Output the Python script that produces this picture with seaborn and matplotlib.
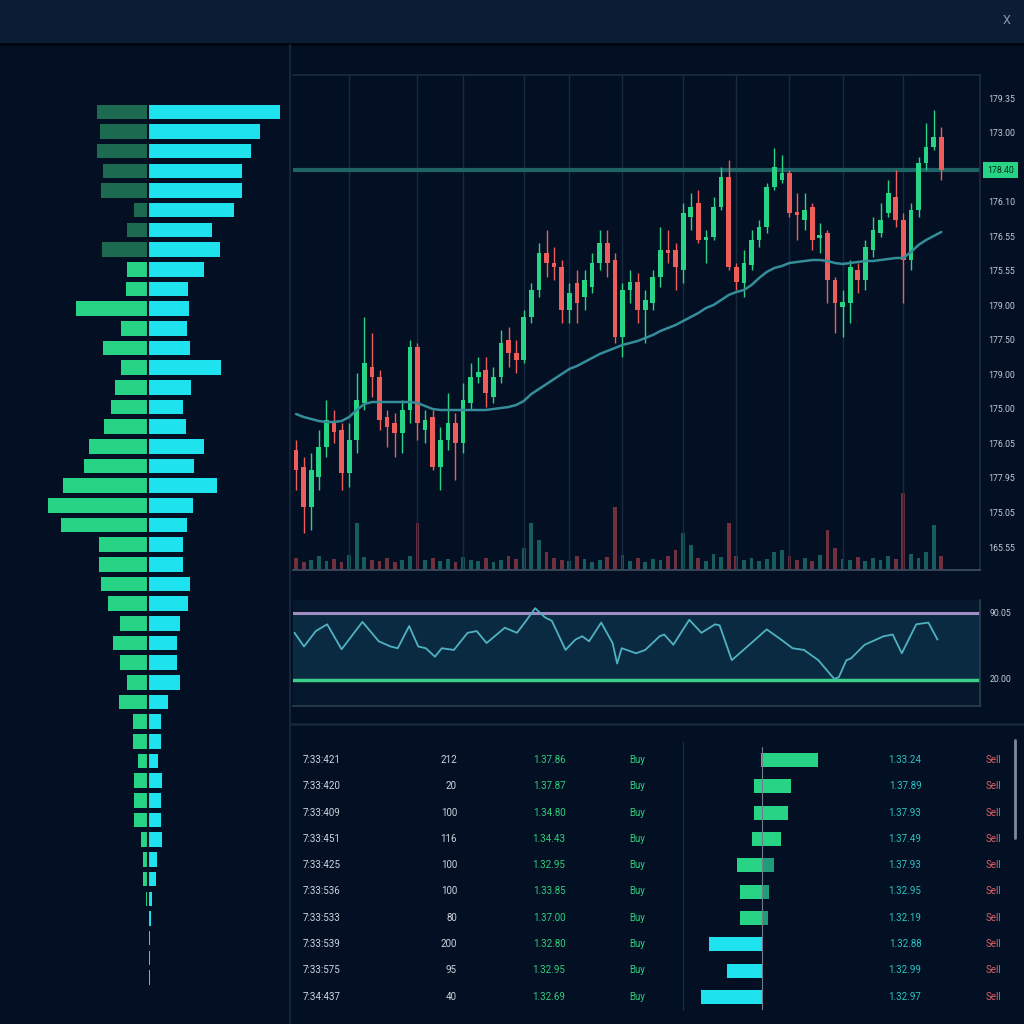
import numpy as np
import pandas as pd
import matplotlib
matplotlib.use("Agg")
import matplotlib.pyplot as plt
from matplotlib.lines import Line2D
from matplotlib.patches import Rectangle
import seaborn as sns

# ---------------- data ----------------
opens = [167.5, 166.65, 164.65, 166.15, 167.65, 168.85, 168.5, 166.35, 168.0, 169.85,
         171.65, 171.15, 169.15, 168.85, 168.35, 169.5, 172.65, 168.5, 169.15, 166.65,
         168.0, 168.85, 167.85, 169.85, 171.15, 171.5, 170.15, 171.15, 173.0, 172.35,
         172.0, 174.15, 175.5, 177.35, 176.85, 176.65, 174.5, 175.85, 175.15, 175.65,
         176.85, 177.85, 177.0, 173.15, 175.5, 175.9, 174.5, 174.85, 176.15, 177.5,
         177.5, 176.5, 179.15, 179.85, 178.0, 178.15, 179.65, 181.15, 176.65, 175.85,
         176.75, 178.0, 178.65, 180.65, 181.0, 181.35, 179.4, 179.0, 179.65, 178.1,
         178.35, 176.0, 174.65, 174.85, 176.5, 176.0, 177.5, 178.35, 179.35, 180.15,
         179.0, 177.0, 179.5, 181.85, 182.65, 183.15]
highs = [168.0, 167.15, 167.35, 168.5, 170.0, 169.5, 168.85, 168.85, 171.35, 174.15,
         173.35, 171.5, 169.5, 169.35, 170.0, 173.0, 172.85, 169.5, 169.5, 168.65,
         170.35, 169.35, 170.85, 171.85, 172.15, 172.15, 171.65, 173.5, 173.65, 173.0,
         174.5, 175.85, 177.85, 178.5, 177.65, 177.0, 175.85, 176.5, 176.5, 177.35,
         178.5, 178.5, 177.35, 175.85, 176.5, 176.35, 175.5, 176.5, 178.65, 178.5,
         177.85, 179.85, 180.35, 180.5, 178.5, 180.15, 181.65, 182.0, 176.85, 177.5,
         178.5, 179.0, 180.85, 182.6, 182.25, 181.5, 180.35, 180.35, 179.85, 178.85,
         178.5, 176.15, 175.5, 177.0, 176.85, 178.0, 179.15, 179.85, 181.0, 181.5,
         179.35, 179.85, 182.15, 183.85, 184.5, 183.65]
lows = [165.5, 163.35, 163.5, 165.5, 167.15, 167.85, 165.5, 165.65, 167.35, 169.5,
        170.15, 168.5, 167.65, 167.15, 167.35, 168.85, 168.0, 167.85, 166.5, 165.5,
        167.5, 166.0, 167.35, 169.5, 170.85, 169.65, 169.85, 170.85, 171.65, 171.35,
        171.85, 173.85, 175.15, 176.15, 176.0, 173.85, 173.85, 173.85, 174.5, 175.35,
        176.5, 176.15, 172.85, 172.15, 174.85, 173.85, 172.85, 174.5, 175.65, 176.85,
        175.5, 175.85, 178.5, 177.85, 176.85, 178.0, 179.5, 176.5, 175.5, 175.15,
        176.5, 177.65, 178.35, 180.5, 180.85, 179.15, 178.0, 178.5, 177.5, 177.35,
        174.85, 173.35, 173.15, 173.85, 175.35, 175.5, 177.15, 178.15, 179.15, 178.65,
        174.85, 176.5, 179.15, 181.5, 182.5, 181.0]
closes = [166.5, 164.65, 166.5, 167.65, 169.0, 168.4, 166.35, 168.0, 170.0, 171.85,
          171.15, 169.0, 168.65, 168.35, 169.5, 172.65, 168.85, 169.0, 166.65, 168.0,
          168.85, 167.85, 170.0, 171.15, 171.4, 170.35, 171.15, 172.85, 172.35, 172.0,
          174.15, 175.5, 177.35, 176.85, 176.65, 174.5, 175.35, 174.85, 176.0, 176.85,
          177.85, 176.85, 173.15, 175.5, 175.9, 174.5, 175.0, 176.15, 177.5, 177.35,
          176.65, 179.35, 179.65, 178.0, 178.15, 179.65, 181.15, 176.65, 175.9, 176.85,
          178.0, 178.65, 180.65, 181.65, 181.35, 179.35, 179.25, 179.5, 178.0, 178.25,
          176.0, 174.85, 174.9, 176.65, 176.0, 177.65, 178.5, 179.0, 180.35, 179.0,
          177.0, 179.5, 181.85, 182.65, 183.15, 181.5]
moving_avg = [169.3, 169.15, 169.05, 168.95, 168.9, 168.9, 168.95, 169.15, 169.5, 169.8,
              169.9, 169.9, 169.9, 169.9, 169.9, 169.9, 169.85, 169.7, 169.55, 169.5,
              169.5, 169.5, 169.5, 169.5, 169.5, 169.5, 169.55, 169.6, 169.65, 169.75,
              169.95, 170.3, 170.55, 170.8, 171.05, 171.3, 171.55, 171.7, 171.9, 172.1,
              172.3, 172.45, 172.6, 172.75, 172.85, 172.95, 173.1, 173.25, 173.45, 173.6,
              173.75, 173.95, 174.15, 174.35, 174.6, 174.75, 175.0, 175.25, 175.4, 175.5,
              175.75, 176.1, 176.4, 176.6, 176.7, 176.85, 176.9, 176.95, 177.0, 177.0,
              176.95, 176.85, 176.8, 176.85, 176.9, 176.95, 176.95, 177.0, 177.05, 177.1,
              177.1, 177.4, 177.75, 178.0, 178.2, 178.4]
volumes = [12, 8, 10, 14, 9, 11, 8, 15, 47, 13,
           10, 9, 12, 8, 10, 14, 47, 10, 12, 9,
           11, 8, 13, 10, 9, 12, 8, 10, 14, 11,
           22, 47, 30, 18, 12, 10, 9, 14, 11, 8,
           10, 13, 63, 15, 9, 12, 8, 11, 10, 14,
           20, 37, 25, 12, 9, 16, 13, 47, 14, 10,
           12, 9, 11, 18, 20, 14, 10, 12, 9, 15,
           40, 22, 11, 10, 13, 9, 12, 10, 14, 11,
           77, 16, 12, 18, 45, 14]
resistance = 181.5
price_tag = "178.40"
price_labels = ["179.35", "173.00", "176.10", "176.55", "175.55", "179.00", "177.50",
                "179.00", "175.00", "176.05", "177.95", "175.05", "165.55"]
grid_idx = [7, 16, 22, 30, 36, 43, 51, 58, 65, 72, 80]

rsi_pos = [-0.2, 1.05, 2.6, 4.1, 6.0, 8.75, 10.9, 12.45, 13.4, 14.9, 16.1, 17.1, 18.3,
           19.2, 20.8, 22.6, 23.8, 25.1, 27.5, 29.1, 30.3, 31.5, 32.8, 33.7, 35.5, 36.8,
           37.7, 38.6, 40.2, 41.7, 42.3, 42.9, 44.8, 46.0, 47.9, 48.5, 49.7, 51.8, 53.4,
           55.2, 55.8, 57.4, 59.2, 62.0, 63.9, 65.4, 66.9, 68.8, 70.9, 71.5, 72.5, 73.1,
           74.9, 77.4, 78.6, 79.8, 81.7, 83.3, 84.5]
rsi_vals = [69.3, 55.0, 71.1, 78.2, 52.1, 80.7, 60.4, 55.0, 53.2, 76.4, 55.0, 53.2, 44.3,
            53.2, 51.4, 69.3, 71.1, 58.6, 74.6, 69.3, 81.8, 95.0, 85.4, 81.8, 51.4, 62.2,
            65.7, 60.4, 80.0, 58.6, 37.2, 53.2, 47.9, 51.4, 65.7, 67.5, 56.8, 82.9, 69.3,
            78.2, 77.1, 40.7, 53.2, 72.9, 62.2, 53.2, 51.4, 40.7, 21.1, 22.9, 40.7, 42.5,
            56.8, 65.7, 67.5, 47.9, 78.2, 80.0, 62.2]
rsi_upper, rsi_lower = 90, 20
rsi_labels = ["90.05", "20.00"]

bid_profile = [51, 48, 51, 45, 47, 14, 21, 46, 21, 22,
               72, 27, 45, 27, 33, 37, 44, 59, 64, 85,
               100, 87, 49, 49, 47, 40, 28, 35, 28, 21,
               29, 15, 15, 10, 14, 14, 14, 7, 5, 5,
               2, 1.5, 1, 1, 1, 0.5]
ask_profile = [132, 112, 103, 94, 94, 86, 64, 72, 56, 40,
               41, 39, 42, 73, 43, 35, 38, 56, 46, 69,
               45, 39, 35, 35, 42, 40, 32, 29, 29, 32,
               20, 13, 13, 10, 14, 13, 13, 14, 9, 8,
               4, 3, 1.5, 1.5, 1.5, 1]
n_dark_rows = 8

trade_times = ["7:33:421", "7:33:420", "7:33:409", "7:33:451", "7:33:425",
               "7:33:536", "7:33:533", "7:33:539", "7:33:575", "7:34:437"]
trade_sizes = [212, 20, 100, 116, 100, 100, 80, 200, 95, 40]
trade_prices = ["1.37.86", "1.37.87", "1.34.80", "1.34.43", "1.32.95",
                "1.33.85", "1.37.00", "1.32.80", "1.32.95", "1.32.69"]
trade_sides = ["Buy"] * 10
depth_left = [1, 8, 8, 10, 25, 22, 22, 53, 35, 61]
depth_right = [56, 29, 26, 19, 12, 7, 6, 0, 0, 0]
quote_prices = ["1.33.24", "1.37.89", "1.37.93", "1.37.49", "1.37.93",
                "1.32.95", "1.32.19", "1.32.88", "1.32.99", "1.32.97"]
quote_sides = ["Sell"] * 10

# ---------------- style ----------------
BG = "#031024"
TOPBAR = "#0b1c35"
GREEN = "#27d384"
DKGREEN = "#1c6a50"
RED = "#ee5d59"
CYAN = "#1fe2ef"
GRID = "#172a3e"
TXT = "#c3cbd5"
LINE = "#1b2c40"

sns.set_theme(style="dark", rc={
    "figure.facecolor": BG, "axes.facecolor": BG, "axes.edgecolor": LINE,
    "text.color": TXT, "xtick.color": TXT, "ytick.color": TXT,
    "patch.edgecolor": "none", "patch.linewidth": 0,
})
plt.rcParams["font.family"] = ["Roboto", "DejaVu Sans"]

W = H = 1024


def rect(x0, y0, x1, y1):
    return [x0 / W, 1 - y1 / H, (x1 - x0) / W, (y1 - y0) / H]


def fx(x):
    return x / W


def fy(y):
    return 1 - y / H


fig = plt.figure(figsize=(10.24, 10.24), dpi=100)

# frame: top bar, separators
fig.add_artist(Rectangle((0, fy(43)), 1, 43 / H, transform=fig.transFigure,
                         facecolor=TOPBAR, edgecolor="none"))
fig.add_artist(Line2D([0, 1], [fy(44), fy(44)], color="#01060e", lw=2))
fig.add_artist(Line2D([fx(290), fx(290)], [fy(45), 0], color="#15263a", lw=1.5))
fig.add_artist(Line2D([fx(290), 1], [fy(724), fy(724)], color="#15263a", lw=2))
fig.text(fx(1007), fy(21), "X", color="#8796aa", fontsize=9, ha="center", va="center")

# ---------------- main candle chart ----------------
o = np.array(opens)
h = np.array(highs)
l = np.array(lows)
c = np.array(closes)
idx = np.arange(len(o))
up = c >= o
colors = np.where(up, GREEN, RED)

ax = fig.add_axes(rect(293, 75, 980, 570))
vax = ax.twinx()
vcolors = np.where(up, "#1b6664", "#7e3442")
vax.bar(idx, volumes, width=0.5, color=vcolors, linewidth=0, alpha=0.9)
vax.set_ylim(0, 495)
vax.set_yticks([])
for s in vax.spines.values():
    s.set_visible(False)
ax.set_zorder(vax.get_zorder() + 1)
ax.patch.set_visible(False)

for g in grid_idx:
    ax.axvline(g, color=GRID, lw=1, zorder=0)
ax.axhline(resistance, color="#1e6466", lw=3, zorder=1)
ax.vlines(idx, l, h, colors=colors, lw=1, zorder=2)
ax.bar(idx, np.maximum(np.abs(c - o), 0.12), bottom=np.minimum(o, c),
       width=0.62, color=colors, linewidth=0, zorder=3)
sns.lineplot(x=idx, y=moving_avg, ax=ax, color="#348d98", lw=1.8, zorder=4)

ax.set_xlim(-0.4, 90.1)
ax.set_ylim(161.5, 186.25)
ax.set_xticks([])
ticks = np.delete(np.linspace(185.1, 162.65, 14), 2)
ax.yaxis.tick_right()
ax.set_yticks(ticks)
ax.set_yticklabels(price_labels, fontsize=6.3, color=TXT)
ax.tick_params(axis="y", length=0, pad=6)
ax.set_ylabel("")
ax.spines["left"].set_visible(False)
ax.spines["top"].set_color(LINE)
ax.spines["right"].set_color(LINE)
ax.spines["bottom"].set_color("#3a4b5e")
ax.spines["bottom"].set_linewidth(1.3)
ax.annotate(price_tag, xy=(1.0, resistance), xycoords=("axes fraction", "data"),
            xytext=(5, 0), textcoords="offset points", ha="left", va="center",
            fontsize=6.3, color="#0a2b1c",
            bbox=dict(boxstyle="square,pad=0.45", fc=GREEN, ec="none"))

# ---------------- RSI panel ----------------
rax = fig.add_axes(rect(293, 600, 980, 706))
rax.set_facecolor("#05172a")
rax.axhspan(rsi_lower, rsi_upper, color="#0a2a41", zorder=0)
rax.axhline(rsi_upper, color="#a18cc4", lw=2.2)
rax.axhline(rsi_lower, color="#3ccf8a", lw=2.5)
sns.lineplot(x=rsi_pos, y=rsi_vals, ax=rax, color="#4fb2c2", lw=1.3)
rax.set_xlim(-0.4, 90.1)
rax.set_ylim(-7.2, 103.6)
rax.set_xticks([])
rax.set_yticks([])
rax.set_ylabel("")
rax.spines["left"].set_visible(False)
rax.spines["top"].set_visible(False)
rax.spines["right"].set_color("#2a3c50")
rax.spines["bottom"].set_color("#2a3c50")
for val, lab in zip([rsi_upper, rsi_lower], rsi_labels):
    rax.annotate(lab, xy=(1.0, val), xycoords=("axes fraction", "data"),
                 xytext=(7, 0), textcoords="offset points", ha="left", va="center",
                 fontsize=6.3, color=TXT)

# ---------------- volume profile (left) ----------------
n_rows = len(bid_profile)
prof = pd.DataFrame({
    "row": np.arange(n_rows),
    "bid": -np.array(bid_profile, dtype=float),
    "ask": np.array(ask_profile, dtype=float),
    "tone": ["dark" if i < n_dark_rows else "bright" for i in range(n_rows)],
})
pax = fig.add_axes(rect(0, 102, 290, 1007))
sns.barplot(data=prof, x="bid", y="row", hue="tone", orient="h", dodge=False,
            palette={"dark": DKGREEN, "bright": GREEN}, width=0.74, saturation=1,
            errorbar=None, legend=False, linewidth=0, ax=pax)
sns.barplot(data=prof, x="ask", y="row", orient="h", color=CYAN, saturation=1,
            width=0.74, errorbar=None, linewidth=0, ax=pax)
pax.axvline(0, color=BG, lw=1.5)
pax.set_xlim(-148, 142)
pax.set_ylim(n_rows - 0.5, -0.5)
pax.set_axis_off()

# ---------------- trades table ----------------
row_y = [760 + i * 26.3 for i in range(len(trade_times))]
for i, yy in enumerate(row_y):
    fig.text(fx(303), fy(yy), trade_times[i], color="#cfd5dd", fontsize=7,
             ha="left", va="center")
    fig.text(fx(457), fy(yy), str(trade_sizes[i]), color="#cfd5dd", fontsize=7,
             ha="right", va="center")
    fig.text(fx(549), fy(yy), trade_prices[i], color="#2fcf7e", fontsize=7,
             ha="center", va="center")
    fig.text(fx(629), fy(yy), trade_sides[i], color="#2fcf7e", fontsize=7,
             ha="left", va="center")
    fig.text(fx(905), fy(yy), quote_prices[i], color="#2cc3c0", fontsize=7,
             ha="center", va="center")
    fig.text(fx(986), fy(yy), quote_sides[i], color="#e0616a", fontsize=7,
             ha="left", va="center")

fig.add_artist(Line2D([fx(683), fx(683)], [fy(742), fy(1010)], color="#1a2b3e", lw=1))
fig.add_artist(Line2D([fx(1015), fx(1015)], [fy(740), fy(838)], color="#7e8a98", lw=2))

n_d = len(depth_left)
depth = pd.DataFrame({
    "row": np.arange(n_d),
    "left": -np.array(depth_left, dtype=float),
    "right": np.array(depth_right, dtype=float),
    "ltone": ["buy" if r > 0 else "sell" for r in depth_right],
    "rtone": ["buy" if i < 4 else "dim" for i in range(n_d)],
})
dax = fig.add_axes(rect(683, 746.85, 880, 1010.15))
sns.barplot(data=depth, x="left", y="row", hue="ltone", orient="h", dodge=False,
            palette={"buy": GREEN, "sell": CYAN}, width=0.53, saturation=1,
            errorbar=None, legend=False, linewidth=0, ax=dax)
sns.barplot(data=depth, x="right", y="row", hue="rtone", orient="h", dodge=False,
            palette={"buy": GREEN, "dim": "#1f9c7a"}, width=0.53, saturation=1,
            errorbar=None, legend=False, linewidth=0, ax=dax)
dax.axvline(0, color="#6f7c8c", lw=0.8)
dax.set_xlim(-79, 118)
dax.set_ylim(n_d - 0.5, -0.5)
dax.set_axis_off()

fig.savefig("out.png", dpi=100, facecolor=BG)
